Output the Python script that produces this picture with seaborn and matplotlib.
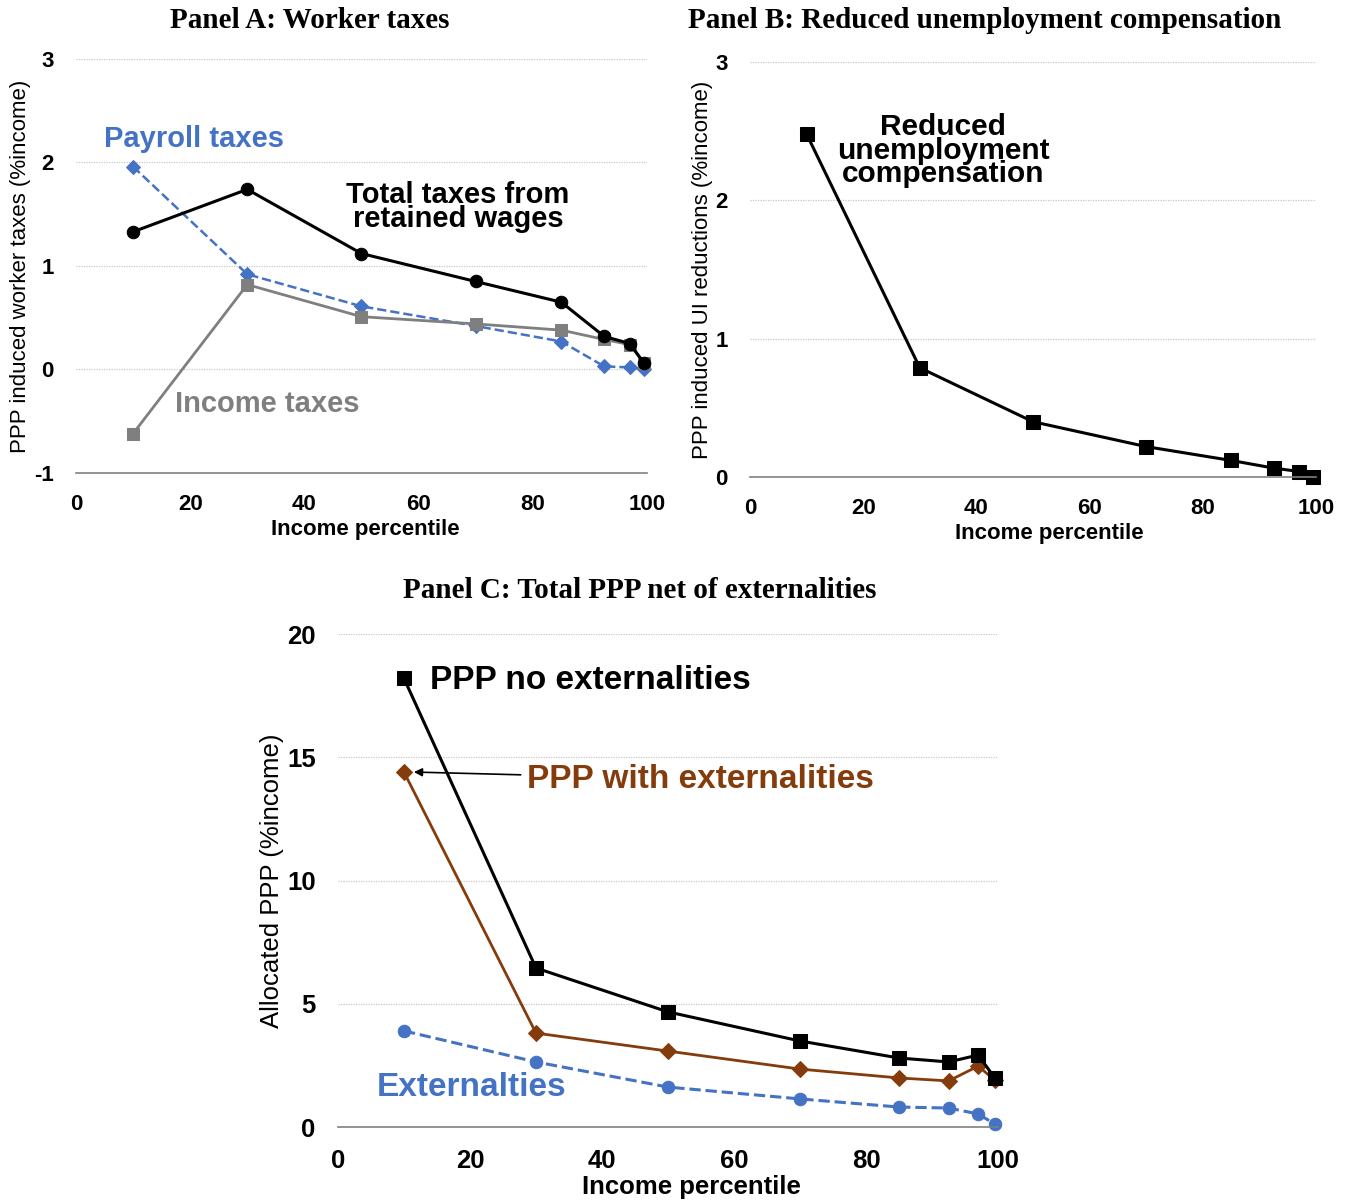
import matplotlib
matplotlib.use("Agg")
import matplotlib.pyplot as plt
import seaborn as sns

# income percentile points
pct = [10, 30, 50, 70, 85, 92.5, 97, 99.5]

# Panel A: worker taxes (% income)
total_taxes = [1.33, 1.74, 1.12, 0.85, 0.65, 0.32, 0.25, 0.06]
payroll_taxes = [1.96, 0.92, 0.61, 0.42, 0.27, 0.03, 0.02, 0.00]
income_taxes = [-0.62, 0.82, 0.51, 0.44, 0.38, 0.29, 0.24, 0.06]

# Panel B: reduced UI
ui_reduction = [2.48, 0.79, 0.40, 0.22, 0.12, 0.065, 0.04, 0.00]

# Panel C: total PPP
ppp_no_ext = [18.2, 6.45, 4.67, 3.49, 2.80, 2.64, 2.92, 1.99]
ppp_with_ext = [14.4, 3.81, 3.08, 2.35, 1.99, 1.87, 2.47, 1.90]
externalities = [3.90, 2.64, 1.62, 1.14, 0.81, 0.77, 0.53, 0.12]

x_ticks = [0, 20, 40, 60, 80, 100]

BLUE = "#4472C4"
GRAY = "#7F7F7F"
BROWN = "#843C0C"

sns.set_style("white")
plt.rcParams["font.family"] = ["Liberation Sans", "DejaVu Sans"]
plt.rcParams["text.color"] = "black"
plt.rcParams["axes.labelcolor"] = "black"
plt.rcParams["xtick.color"] = "black"
plt.rcParams["ytick.color"] = "black"

fig = plt.figure(figsize=(13.54, 12.01), dpi=100)
axA = fig.add_axes([0.0561, 0.6062, 0.4217, 0.3447])
axB = fig.add_axes([0.5539, 0.6028, 0.4180, 0.3455])
axC = fig.add_axes([0.2496, 0.0616, 0.4875, 0.4105])


def style_axis(ax, yticks, ylabel, fs=16, xpad=8, xlabelpad=2, xlab_x=0.5):
    ax.set_xlim(0, 100)
    ax.set_ylim(yticks[0], yticks[-1])
    ax.set_xticks(x_ticks)
    ax.set_yticks(yticks)
    ax.set_xticklabels([str(t) for t in x_ticks], fontweight="bold", fontsize=fs)
    ax.set_yticklabels([str(t) for t in yticks], fontweight="bold", fontsize=fs)
    for s in ["top", "right", "left"]:
        ax.spines[s].set_visible(False)
    ax.spines["bottom"].set_color("#808080")
    ax.spines["bottom"].set_linewidth(1.2)
    ax.tick_params(axis="x", direction="out", length=6, width=1.0, color="#808080",
                   labelcolor="black", pad=xpad)
    ax.tick_params(axis="y", length=0, pad=16, labelcolor="black")
    for t in yticks[1:]:
        ax.axhline(t, color="#C8C8C8", lw=0.9, ls=(0, (1, 1)), zorder=0)
    ax.set_xlabel("Income percentile", fontweight="bold", fontsize=fs,
                  labelpad=xlabelpad, x=xlab_x)
    ax.set_ylabel(ylabel, fontsize=fs, labelpad=2)


# ---- Panel A
sns.lineplot(x=pct, y=payroll_taxes, ax=axA, color=BLUE, lw=1.8, linestyle="--",
             marker="D", markersize=7, markeredgecolor=BLUE, clip_on=False)
sns.lineplot(x=pct, y=income_taxes, ax=axA, color=GRAY, lw=2.0,
             marker="s", markersize=8, markeredgecolor=GRAY, clip_on=False)
sns.lineplot(x=pct, y=total_taxes, ax=axA, color="black", lw=2.2,
             marker="o", markersize=9, markeredgecolor="black", clip_on=False)
style_axis(axA, [-1, 0, 1, 2, 3], "PPP induced worker taxes (%income)",
           xpad=9, xlabelpad=3, xlab_x=0.506)
axA.text(20.7, 2.23, "Payroll taxes", color=BLUE, fontsize=21, fontweight="bold",
         ha="center", va="center")
axA.text(66.9, 1.57, "Total taxes from\nretained wages", color="black", fontsize=21,
         fontweight="bold", ha="center", va="center", linespacing=0.82)
axA.text(33.5, -0.33, "Income taxes", color=GRAY, fontsize=21, fontweight="bold",
         ha="center", va="center")

# ---- Panel B
sns.lineplot(x=pct, y=ui_reduction, ax=axB, color="black", lw=2.2,
             marker="s", markersize=10, markeredgecolor="black", clip_on=False)
style_axis(axB, [0, 1, 2, 3], "PPP induced UI reductions (%income)",
           xpad=9, xlabelpad=3, xlab_x=0.528)
axB.text(34.1, 2.36, "Reduced\nunemployment\ncompensation", color="black",
         fontsize=21.5, fontweight="bold", ha="center", va="center", linespacing=0.78)

# ---- Panel C
sns.lineplot(x=pct, y=externalities, ax=axC, color=BLUE, lw=2.2, linestyle="--",
             marker="o", markersize=9, markeredgecolor=BLUE, clip_on=False)
sns.lineplot(x=pct, y=ppp_with_ext, ax=axC, color=BROWN, lw=2.0,
             marker="D", markersize=8, markeredgecolor=BROWN, clip_on=False)
sns.lineplot(x=pct, y=ppp_no_ext, ax=axC, color="black", lw=2.2,
             marker="s", markersize=10, markeredgecolor="black", clip_on=False)
style_axis(axC, [0, 5, 10, 15, 20], "Allocated PPP (%income)", fs=18.5,
           xpad=10, xlabelpad=1, xlab_x=0.535)
axC.text(13.9, 18.13, "PPP no externalities", color="black", fontsize=24,
         fontweight="bold", ha="left", va="center")
axC.annotate("PPP with externalities", xy=(11.5, 14.4), xytext=(28.6, 14.1),
             color=BROWN, fontsize=24, fontweight="bold", ha="left", va="center",
             arrowprops=dict(arrowstyle="-|>", color="black", lw=1.2,
                             shrinkA=2, shrinkB=0, mutation_scale=12))
axC.text(20.3, 1.62, "Externalties", color=BLUE, fontsize=24, fontweight="bold",
         ha="center", va="center")

# panel titles
title_kw = dict(fontsize=21, fontweight="bold", family=["Liberation Serif", "DejaVu Serif"],
                ha="center", va="center")
fig.text(310 / 1354, 1 - 20 / 1201, "Panel A: Worker taxes", **title_kw)
fig.text(985 / 1354, 1 - 20 / 1201, "Panel B: Reduced unemployment compensation", **title_kw)
fig.text(640 / 1354, 1 - 590 / 1201, "Panel C: Total PPP net of externalities", **title_kw)

fig.savefig("out.png", dpi=100)
